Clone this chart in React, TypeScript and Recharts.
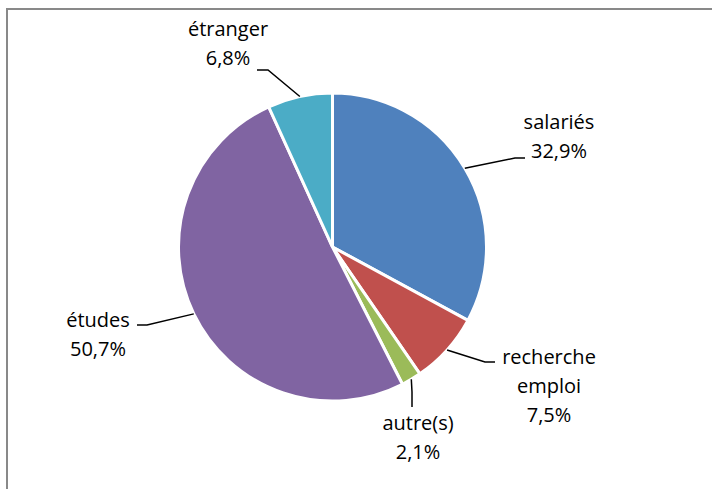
import { PieChart, Pie, Cell } from "recharts";

const categories = ["salariés", "recherche emploi", "autre(s)", "études", "étranger"];
const shares = [32.9, 7.5, 2.1, 50.7, 6.8];
const shareLabels = ["32,9%", "7,5%", "2,1%", "50,7%", "6,8%"];
const colors = ["#4F81BD", "#C0504D", "#9BBB59", "#8064A2", "#4BACC6"];

// where each label sits (leader elbow, leader end, text lines)
const labelLayout = [
  { elbow: [515, 158], end: [525, 158], x: 559, y: 129, lines: ["salariés"] },
  { elbow: [485, 362], end: [495, 362], x: 549, y: 364, lines: ["recherche", "emploi"] },
  { elbow: [412, 392], end: [412, 407], x: 418, y: 430, lines: ["autre(s)"] },
  { elbow: [147, 325], end: [137, 325], x: 98, y: 327, lines: ["études"] },
  { elbow: [268, 70], end: [257, 70], x: 228, y: 36, lines: ["étranger"] },
];

const data = categories.map((name, i) => ({ name, value: shares[i] }));

const RADIAN = Math.PI / 180;
const LINE_H = 29;

function renderLabel(props: any) {
  const { cx, cy, midAngle, outerRadius, index } = props;
  const sx = cx + outerRadius * Math.cos(-midAngle * RADIAN);
  const sy = cy + outerRadius * Math.sin(-midAngle * RADIAN);
  const l = labelLayout[index];
  const lines = [...l.lines, shareLabels[index]];
  return (
    <g key={`lbl-${index}`}>
      <polyline
        points={`${sx},${sy} ${l.elbow[0]},${l.elbow[1]} ${l.end[0]},${l.end[1]}`}
        fill="none"
        stroke="#000"
        strokeWidth={1.5}
      />
      {lines.map((t, j) => (
        <text
          key={j}
          x={l.x}
          y={l.y + j * LINE_H}
          textAnchor="middle"
          fill="#000"
          fontSize={20}
          fontFamily="'Open Sans', sans-serif"
        >
          {t}
        </text>
      ))}
    </g>
  );
}

export default function App() {
  return (
    <div style={{ position: "absolute", left: 0, top: 0, width: 712, height: 489, background: "#fff", overflow: "hidden" }}>
      <div
        style={{
          position: "absolute",
          left: 6,
          top: 8,
          width: 720,
          height: 500,
          borderLeft: "2px solid #898989",
          borderTop: "2px solid #898989",
        }}
      />
      <div style={{ position: "absolute", left: 0, top: 0 }}>
        <PieChart width={712} height={489} margin={{ top: 0, right: 0, bottom: 0, left: 0 }}>
          <Pie
            data={data}
            dataKey="value"
            nameKey="name"
            cx={332.5}
            cy={247}
            outerRadius={154}
            startAngle={90}
            endAngle={-270}
            stroke="#fff"
            strokeWidth={3}
            label={renderLabel}
            labelLine={false}
            isAnimationActive={false}
          >
            {data.map((d, i) => (
              <Cell key={d.name} fill={colors[i]} />
            ))}
          </Pie>
        </PieChart>
      </div>
    </div>
  );
}
